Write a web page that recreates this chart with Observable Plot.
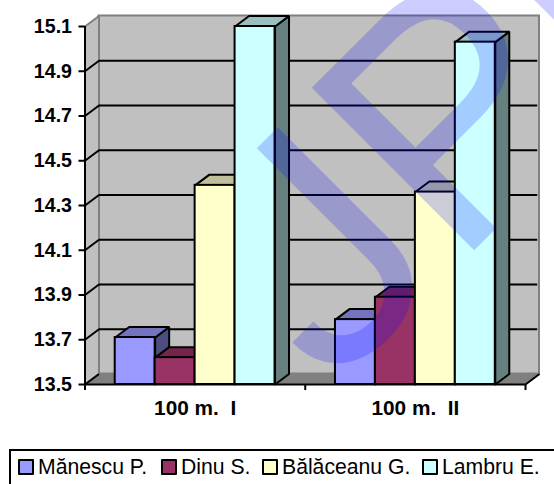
<!DOCTYPE html>
<html>
<head>
<meta charset="utf-8">
<script src="https://cdn.jsdelivr.net/npm/d3@7"></script>
<script src="https://cdn.jsdelivr.net/npm/@observablehq/plot@0.6"></script>
<style>
  html, body { margin: 0; padding: 0; background: #fff; overflow: hidden; width: 554px; height: 484px; }
  svg { display: block; }
  .legend {
    position: absolute; left: 9px; top: 449px; width: 600px; height: 60px;
    border: 2px solid #000;
    font: 21.2px "Liberation Sans", Arial, sans-serif; color: #000;
    white-space: nowrap;
  }
  .legend .item { display: flex; align-items: center; position: absolute; top: 4px; }
  .legend .swatch { width: 12px; height: 12px; border: 2px solid #000; border-radius: 1px; margin-right: 4px; }
</style>
</head>
<body>
<div id="chart"></div>
<script>
// Race times per athlete over the two 100 m runs
const runs = ["100 m.  I", "100 m.  II"];
const athletes = ["Mănescu P.", "Dinu S.", "Bălăceanu G.", "Lambru E."];
const colors = ["#9999ff", "#993366", "#ffffcc", "#ccffff"];
const topColors = ["#7373bf", "#732649", "#bfbf99", "#99bfbf"];
const sideColors = ["#4d4d80", "#4d1a33", "#808066", "#668080"];
const run1 = [13.71, 13.62, 14.39, 15.1];
const run2 = [13.79, 13.89, 14.36, 15.03];
const yTicks = [13.5, 13.7, 13.9, 14.1, 14.3, 14.5, 14.7, 14.9, 15.1];

// Oblique projection of the depth axis, in scale units
const depthX = 0.0635;
const depthY = 0.047;
const barW = 0.1814;
const gap = (1 - 4 * barW) / 2;
const yMin = yTicks[0];
const yMax = yTicks[yTicks.length - 1];

const ink = {stroke: "#000", strokeWidth: 2, strokeLinejoin: "miter"};
const wallInk = {stroke: "#808080", strokeWidth: 2, strokeLinejoin: "miter"};

const poly = (pts, fill, style) => Plot.line(pts, {x: "0", y: "1", fill, ...style});

const walls = [
  // back wall
  Plot.rect([0], {x1: depthX, x2: 2 + depthX, y1: yMin + depthY, y2: yMax + depthY, fill: "#c0c0c0", ...wallInk}),
  // left wall
  poly([[0, yMin], [depthX, yMin + depthY], [depthX, yMax + depthY], [0, yMax], [0, yMin]], "#c0c0c0", wallInk),
  // floor
  poly([[0, yMin], [depthX, yMin + depthY], [2 + depthX, yMin + depthY], [2, yMin], [0, yMin]], "#808080", {stroke: "#808080", strokeWidth: 1}),
  // gridlines across the back wall and down the left wall
  Plot.ruleY(yTicks.slice(1, -1), {y: d => d + depthY, x1: depthX, x2: 2 + depthX - 0.008, ...ink}),
  Plot.link(yTicks.slice(1, -1), {x1: 0, y1: d => d, x2: depthX, y2: d => d + depthY, ...ink}),
  Plot.link([yMin], {x1: 0, y1: d => d, x2: depthX, y2: d => d + depthY, ...ink}),
  Plot.link([yMin], {x1: 2, y1: d => d, x2: 2 + depthX, y2: d => d + depthY, ...ink})
];

// Each bar is a side face and a top face behind its front rectangle
const bars = [run1, run2].flatMap((values, r) =>
  values.flatMap((v, i) => {
    const x1 = r + gap + i * barW;
    const x2 = x1 + barW;
    return [
      poly([[x2, yMin], [x2 + depthX, yMin + depthY], [x2 + depthX, v + depthY], [x2, v], [x2, yMin]], sideColors[i], ink),
      poly([[x1, v], [x1 + depthX, v + depthY], [x2 + depthX, v + depthY], [x2, v], [x1, v]], topColors[i], ink),
      Plot.rect([v], {x1, x2, y1: yMin, y2: d => d, fill: colors[i], ...ink})
    ];
  })
);

const stamp = {rotate: -45, text: d => d, textAnchor: "start", lineAnchor: "bottom", fill: "#0000ff", fillOpacity: 0.2};

const chart = Plot.plot({
  width: 554,
  height: 448,
  marginLeft: 84.5,
  marginRight: 29,
  marginTop: 26,
  marginBottom: 64,
  style: {background: "transparent", overflow: "hidden"},
  x: {type: "linear", domain: [0, 2], axis: null},
  y: {type: "linear", domain: [yMin, yMax], axis: null},
  marks: [
    ...walls,
    ...bars,
    Plot.ruleX([0], {y1: yMin, y2: yMax, ...ink}),
    Plot.ruleY([yMin], {x1: 0, x2: 2, ...ink}),
    Plot.axisY({
      ticks: yTicks, tickFormat: ".1f", tickSize: 6, tickPadding: 7, label: null,
      stroke: "#000", strokeWidth: 2, fill: "#000",
      fontFamily: "Liberation Sans", fontSize: 19.6, fontWeight: "bold"
    }),
    Plot.ruleX([0, 1, 2], {y1: yMin, y2: yMin - 0.027, ...ink}),
    Plot.text(runs, {
      x: (d, i) => i + 0.5, y: yMin, dy: 24, text: d => d.replace(/ {2}/, "\u00a0\u00a0"),
      fontFamily: "Liberation Sans", fontSize: 20.8, fontWeight: "bold", fill: "#000"
    }),
    // translucent diagonal stamp lying over the whole plot
    Plot.text(["J"], {x: 1.115, y: 13.4656, fontFamily: "Roboto", fontSize: 316, ...stamp}),
    Plot.text(["P"], {x: 1.679, y: 14.013, fontFamily: "Liberation Sans", fontSize: 334, ...stamp}),
    Plot.text(["E"], {x: 2.383, y: 14.707, fontFamily: "Liberation Sans", fontSize: 334, ...stamp})
  ]
});

document.getElementById("chart").append(chart);

// Legend row under the plot
const legend = document.createElement("div");
legend.className = "legend";
const lefts = [7, 150, 251, 411];
athletes.forEach((name, i) => {
  const item = document.createElement("span");
  item.className = "item";
  item.style.left = lefts[i] + "px";
  const swatch = document.createElement("span");
  swatch.className = "swatch";
  swatch.style.background = colors[i];
  item.append(swatch, document.createTextNode(name));
  legend.append(item);
});
document.body.append(legend);
</script>
</body>
</html>
